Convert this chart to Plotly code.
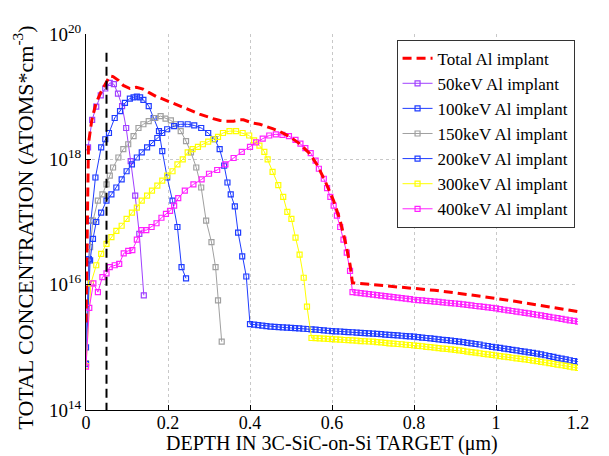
import plotly.graph_objects as go

# ---------------- data (depth in um, concentration in atoms/cm^3) ----------------
total_x = [0.0, 0.006, 0.014, 0.024, 0.036, 0.046, 0.058, 0.066, 0.079, 0.091, 0.107, 0.123,
           0.139, 0.155, 0.172, 0.188, 0.204, 0.22, 0.248, 0.277, 0.294, 0.31, 0.327, 0.342,
           0.36, 0.374, 0.384, 0.406, 0.424, 0.439, 0.455, 0.471, 0.495, 0.519, 0.544, 0.564,
           0.584, 0.604, 0.62, 0.632, 0.644, 0.65, 0.7, 0.75, 0.8, 0.85, 0.9, 0.95, 1.0, 1.05,
           1.1, 1.15, 1.2]
total_y = [2.5e15, 1.78e18, 4.17e18, 7.76e18, 1.17e19, 1.58e19, 2.14e19, 2.09e19, 1.82e19,
           1.51e19, 1.35e19, 1.41e19, 1.32e19, 1.15e19, 1.0e19, 9.12e18, 8.32e18, 7.59e18,
           6.31e18, 5.25e18, 4.79e18, 4.47e18, 4.17e18, 4.07e18, 4.07e18, 4.27e18, 4.27e18,
           3.80e18, 3.63e18, 3.39e18, 3.09e18, 2.82e18, 2.34e18, 1.82e18, 1.26e18, 8.13e17,
           4.37e17, 2.19e17, 1.05e17, 5.01e16, 2.09e16, 1.07e16, 1.0e16, 9.55e15, 8.91e15,
           8.13e15, 7.41e15, 6.76e15, 6.03e15, 5.37e15, 4.79e15, 4.27e15, 3.72e15]

k50_x = [0.005, 0.015, 0.025, 0.036, 0.047, 0.058, 0.068, 0.078, 0.088, 0.098, 0.109, 0.12,
         0.13, 0.141]
k50_y = [1.55e18, 4.27e18, 6.92e18, 1.05e19, 1.35e19, 1.66e19, 1.58e19, 1.12e19, 7.08e18,
         3.16e18, 9.33e17, 2.63e17, 6.46e16, 6.76e15]

k100_x = [0.0, 0.007, 0.012, 0.023, 0.037, 0.047, 0.056, 0.07, 0.083, 0.095, 0.107, 0.116,
          0.124, 0.132, 0.14, 0.153, 0.165, 0.178, 0.186, 0.198, 0.211, 0.223, 0.233, 0.244]
k100_y = [1.0e15, 2.57e16, 1.05e17, 5.13e17, 1.55e18, 2.09e18, 2.63e18, 4.57e18, 5.89e18,
          7.94e18, 9.33e18, 9.77e18, 1.0e19, 9.77e18, 8.91e18, 7.08e18, 4.57e18, 2.82e18,
          1.35e18, 5.13e17, 2.19e17, 8.32e16, 1.91e16, 1.26e16]

k150_x = [0.0, 0.01, 0.017, 0.029, 0.04, 0.05, 0.058, 0.066, 0.079, 0.091, 0.103, 0.116,
          0.128, 0.14, 0.153, 0.169, 0.182, 0.194, 0.207, 0.219, 0.231, 0.244, 0.256, 0.269,
          0.281, 0.293, 0.306, 0.316, 0.322, 0.331]
k150_y = [5.6e14, 3.98e16, 1.05e17, 2.19e17, 2.75e17, 3.98e17, 5.5e17, 7.41e17, 1.07e18,
          1.45e18, 1.74e18, 2.34e18, 3.16e18, 3.63e18, 4.07e18, 4.57e18, 4.9e18, 4.47e18,
          4.17e18, 3.63e18, 2.82e18, 1.95e18, 1.29e18, 7.41e17, 3.55e17, 1.05e17, 4.79e16,
          1.91e16, 5.62e15, 1.23e15]

k200_x = [0.0, 0.01, 0.017, 0.025, 0.037, 0.05, 0.062, 0.074, 0.087, 0.099, 0.112, 0.124,
          0.136, 0.149, 0.161, 0.174, 0.186, 0.198, 0.215, 0.231, 0.248, 0.264, 0.281, 0.298,
          0.314, 0.326, 0.337, 0.345, 0.353, 0.363, 0.371, 0.381, 0.391]
k200_y = [5.4e14, 2.45e16, 5.37e16, 1.0e17, 1.41e17, 2.19e17, 2.75e17, 3.55e17, 4.79e17,
          6.46e17, 8.32e17, 1.07e18, 1.29e18, 1.55e18, 1.82e18, 2.19e18, 2.63e18, 3.02e18,
          3.39e18, 3.63e18, 3.63e18, 3.47e18, 3.16e18, 2.63e18, 2.09e18, 1.45e18, 7.94e17,
          4.27e17, 2.75e17, 1.78e17, 6.76e16, 2.82e16, 1.35e16]
# 200 keV tail, depth 0.40 .. 1.20 um every 0.01
k200_tail = [2.34e15, 2.30e15, 2.26e15, 2.22e15, 2.18e15, 2.14e15, 2.12e15, 2.10e15, 2.08e15,
             2.06e15, 2.04e15, 2.02e15, 2.00e15, 1.98e15, 1.96e15, 1.94e15, 1.91e15, 1.89e15,
             1.87e15, 1.84e15, 1.82e15, 1.80e15, 1.79e15, 1.77e15, 1.75e15, 1.74e15, 1.72e15,
             1.70e15, 1.69e15, 1.67e15, 1.66e15, 1.64e15, 1.62e15, 1.60e15, 1.58e15, 1.57e15,
             1.55e15, 1.53e15, 1.51e15, 1.50e15, 1.48e15, 1.45e15, 1.43e15, 1.41e15, 1.39e15,
             1.36e15, 1.34e15, 1.32e15, 1.30e15, 1.28e15, 1.26e15, 1.23e15, 1.21e15, 1.18e15,
             1.16e15, 1.13e15, 1.11e15, 1.07e15, 1.05e15, 1.02e15, 1.00e15, 9.77e14, 9.55e14,
             9.33e14, 9.12e14, 8.91e14, 8.71e14, 8.51e14, 8.32e14, 8.13e14, 7.94e14, 7.70e14,
             7.47e14, 7.24e14, 7.02e14, 6.81e14, 6.61e14, 6.41e14, 6.22e14, 6.05e14, 5.89e14]

k300_x = [0.0, 0.012, 0.025, 0.037, 0.05, 0.062, 0.074, 0.087, 0.099, 0.112, 0.124, 0.136,
          0.149, 0.161, 0.174, 0.186, 0.198, 0.211, 0.223, 0.236, 0.248, 0.26, 0.273, 0.285,
          0.298, 0.31, 0.322, 0.334, 0.35, 0.366, 0.382, 0.398, 0.41, 0.423, 0.435, 0.443,
          0.455, 0.469, 0.481, 0.491, 0.501, 0.511, 0.521, 0.531, 0.539]
k300_y = [5.0e14, 1.05e16, 2.04e16, 3.09e16, 4.47e16, 5.75e16, 7.24e16, 8.71e16, 1.12e17,
          1.41e17, 1.70e17, 2.19e17, 2.63e17, 3.16e17, 3.80e17, 4.57e17, 5.50e17, 6.46e17,
          8.32e17, 1.0e18, 1.29e18, 1.45e18, 1.58e18, 1.74e18, 1.91e18, 2.09e18, 2.29e18,
          2.63e18, 2.82e18, 2.82e18, 2.63e18, 2.40e18, 2.0e18, 1.66e18, 1.32e18, 1.0e18,
          6.31e17, 3.89e17, 2.51e17, 1.45e17, 1.12e17, 5.62e16, 3.02e16, 1.29e16, 4.47e15]
# 300 keV tail, depth 0.55 .. 1.20 um every 0.01
k300_tail = [1.41e15, 1.40e15, 1.39e15, 1.38e15, 1.36e15, 1.35e15, 1.34e15, 1.33e15, 1.31e15,
             1.30e15, 1.29e15, 1.28e15, 1.26e15, 1.25e15, 1.24e15, 1.23e15, 1.21e15, 1.20e15,
             1.18e15, 1.16e15, 1.15e15, 1.13e15, 1.12e15, 1.10e15, 1.09e15, 1.07e15, 1.054e15,
             1.04e15, 1.02e15, 1.005e15, 9.89e14, 9.72e14, 9.57e14, 9.42e14, 9.27e14, 9.12e14,
             8.93e14, 8.75e14, 8.57e14, 8.39e14, 8.22e14, 8.05e14, 7.89e14, 7.73e14, 7.57e14,
             7.41e14, 7.26e14, 7.11e14, 6.96e14, 6.82e14, 6.68e14, 6.54e14, 6.41e14, 6.28e14,
             6.15e14, 6.03e14, 5.87e14, 5.73e14, 5.58e14, 5.45e14, 5.31e14, 5.18e14, 5.05e14,
             4.92e14, 4.80e14, 4.68e14]

k400_x = [0.0, 0.008, 0.018, 0.029, 0.04, 0.05, 0.058, 0.07, 0.081, 0.092, 0.103, 0.113,
          0.124, 0.135, 0.147, 0.16, 0.172, 0.184, 0.195, 0.205, 0.215, 0.225, 0.241, 0.262,
          0.282, 0.3, 0.32, 0.34, 0.36, 0.38, 0.4, 0.415, 0.431, 0.447, 0.463, 0.479, 0.495,
          0.511, 0.523, 0.535, 0.548, 0.56, 0.568, 0.58, 0.588, 0.596, 0.604, 0.612, 0.62,
          0.628, 0.636, 0.644]
k400_y = [4.9e14, 4.27e15, 1.05e16, 7.59e15, 1.32e16, 1.51e16, 1.91e16, 2.04e16, 2.14e16,
          3.16e16, 3.47e16, 3.55e16, 5.25e16, 7.41e16, 7.41e16, 8.32e16, 9.55e16, 1.17e17,
          1.35e17, 1.51e17, 1.82e17, 2.4e17, 3.16e17, 3.98e17, 4.79e17, 5.89e17, 6.76e17,
          8.32e17, 1.05e18, 1.32e18, 1.58e18, 1.86e18, 2.14e18, 2.40e18, 2.51e18, 2.45e18,
          2.34e18, 2.04e18, 1.78e18, 1.51e18, 1.26e18, 9.55e17, 7.08e17, 4.9e17, 3.47e17,
          2.51e17, 1.82e17, 1.26e17, 8.32e16, 5.25e16, 3.24e16, 1.66e16]
# 400 keV tail, depth 0.65 .. 1.20 um every 0.01
k400_tail = [7.59e15, 7.45e15, 7.31e15, 7.18e15, 7.05e15, 6.92e15, 6.79e15, 6.67e15, 6.55e15,
             6.43e15, 6.31e15, 6.19e15, 6.08e15, 5.97e15, 5.86e15, 5.75e15, 5.68e15, 5.60e15,
             5.52e15, 5.45e15, 5.37e15, 5.30e15, 5.22e15, 5.15e15, 5.08e15, 5.01e15, 4.92e15,
             4.83e15, 4.75e15, 4.66e15, 4.57e15, 4.49e15, 4.41e15, 4.33e15, 4.25e15, 4.17e15,
             4.07e15, 3.98e15, 3.89e15, 3.80e15, 3.72e15, 3.63e15, 3.55e15, 3.47e15, 3.39e15,
             3.31e15, 3.23e15, 3.15e15, 3.07e15, 2.99e15, 2.92e15, 2.85e15, 2.77e15, 2.70e15,
             2.64e15, 2.57e15]

tail_start = {"200": 0.40, "300": 0.55, "400": 0.65}
marker_depth = [0.05, 0.05]
marker_conc = [5.0e19, 1e14]

x_tick_vals = [0, 0.2, 0.4, 0.6, 0.8, 1.0, 1.2]
x_tick_text = ["0", "0.2", "0.4", "0.6", "0.8", "1", "1.2"]
y_tick_vals = [1e14, 1e16, 1e18, 1e20]
y_tick_text = ["10<sup>14</sup>", "10<sup>16</sup>", "10<sup>18</sup>", "10<sup>20</sup>"]

names = ["Total Al implant", "50keV Al implant", "100keV Al implant", "150keV Al implant",
         "200keV Al implant", "300keV Al implant", "400keV Al implant"]
x_title = "DEPTH IN 3C-SiC-on-Si TARGET (\u03bcm)"
y_title = "TOTAL CONCENTRATION (ATOMS*cm<sup>-3</sup>)"


def tail_x(start, n):
    return [round(start + 0.01 * i, 2) for i in range(n)]


x200 = k200_x + tail_x(tail_start["200"], len(k200_tail))
y200 = k200_y + k200_tail
x300 = k300_x + tail_x(tail_start["300"], len(k300_tail))
y300 = k300_y + k300_tail
x400 = k400_x + tail_x(tail_start["400"], len(k400_tail))
y400 = k400_y + k400_tail

FONT = "Liberation Serif"

fig = go.Figure()

series = [
    (k50_x, k50_y, "#a040ff", names[1], 2),
    (k100_x, k100_y, "#1f3cff", names[2], 3),
    (k150_x, k150_y, "#a0a0a0", names[3], 4),
    (x200, y200, "#1f3cff", names[4], 5),
    (x300, y300, "#ffff00", names[5], 6),
    (x400, y400, "#ff20ff", names[6], 7),
]
for xs, ys, col, nm, rank in series:
    fig.add_trace(go.Scatter(
        x=xs, y=ys, mode="lines+markers", name=nm, legendrank=rank,
        line=dict(color=col, width=1),
        marker=dict(symbol="square-open", size=5, color=col, line=dict(width=1.2, color=col)),
    ))

fig.add_trace(go.Scatter(
    x=total_x, y=total_y, mode="lines", name=names[0], legendrank=1,
    line=dict(color="#ff0000", width=3, dash="9px,5px"),
))

fig.add_trace(go.Scatter(
    x=marker_depth, y=marker_conc, mode="lines", showlegend=False,
    line=dict(color="black", width=2, dash="9px,5px"),
))

# page body has an 8px margin: figure is sized to fit in the 609x456 window
fig.update_layout(
    width=601, height=448,
    margin=dict(l=78, r=31, t=26, b=46, autoexpand=False),
    paper_bgcolor="white", plot_bgcolor="white",
    font=dict(family=FONT, size=17, color="black"),
    showlegend=True,
    legend=dict(
        x=0.993, xanchor="right", y=0.985, yanchor="top",
        bgcolor="white", bordercolor="#333333", borderwidth=1,
        font=dict(family=FONT, size=17, color="black"),
        tracegroupgap=0, itemwidth=30,
    ),
    xaxis=dict(
        range=[0, 1.2], tickvals=x_tick_vals, ticktext=x_tick_text,
        showline=True, linecolor="black", linewidth=1, mirror=False,
        ticks="inside", ticklen=5, tickcolor="black",
        showgrid=True, gridcolor="#c8c8c8", griddash="dot", gridwidth=1,
        zeroline=False, automargin=False, ticklabelstandoff=-4,
        tickfont=dict(family=FONT, size=18),
    ),
    yaxis=dict(
        type="log", range=[14, 20], tickvals=y_tick_vals, ticktext=y_tick_text,
        showline=True, linecolor="black", linewidth=1, mirror=False,
        ticks="inside", ticklen=5, tickcolor="black",
        showgrid=True, gridcolor="#c8c8c8", griddash="dot", gridwidth=1,
        zeroline=False, automargin=False,
        tickfont=dict(family=FONT, size=19),
    ),
    annotations=[
        dict(text=x_title, xref="paper", yref="paper", x=0.5, y=-0.09,
             xanchor="center", yanchor="middle", showarrow=False,
             font=dict(family=FONT, size=20, color="black")),
        dict(text=y_title, xref="paper", yref="paper", x=-0.128, y=0.485,
             xanchor="center", yanchor="middle", showarrow=False, textangle=-90,
             font=dict(family=FONT, size=22, color="black")),
    ],
)

fig.write_html("out.html")
